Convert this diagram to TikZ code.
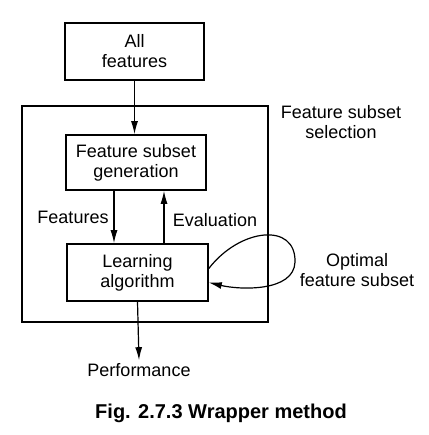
\documentclass[tikz,border=0pt]{standalone}
\usepackage{fontspec}
\setmainfont{Liberation Sans}
\usepackage{tikz}
\usetikzlibrary{arrows.meta}

\tikzset{
  blk/.style={draw,line width=1.6pt,align=center,inner sep=0pt},
  lbl/.style={align=center,inner sep=0pt},
  arr/.style={-{Latex[length=13pt,width=7pt]},line width=1.2pt},
}

\begin{document}
\begin{tikzpicture}[x=1pt,y=-1pt,font=\fontsize{18}{20}\selectfont]
        \useasboundingbox (0,0) rectangle (428,435);
        \node[blk,minimum width=139pt,minimum height=57pt] (allf) at (134.5,51.5) {All\\features};
        \draw[line width=1.6pt] (22,106) rectangle (268,322);
        \node[lbl] (sel) at (341,122) {Feature subset\\selection};
        \node[blk,minimum width=140pt,minimum height=55pt] (gen) at (136,162.5) {Feature subset\\generation};
        \node[blk,minimum width=141pt,minimum height=57pt] (learn) at (137.5,272.5) {Learning\\algorithm};
        \draw[arr] (allf.south) -- (allf.south |- gen.north);
        \draw[arr] ([xshift=-22pt]gen.south) -- ([xshift=-22pt]gen.south |- learn.north);
        \draw[arr] ([xshift=26.5pt]learn.north) -- ([xshift=26.5pt]learn.north |- gen.south);
        \node[lbl] (feat) at (73,217) {Features};
        \node[lbl] (eval) at (215,220) {Evaluation};
        % loop back into the learner
        \draw[arr] ([yshift=4pt]learn.east) ..controls (240,228) and (296,222) ..(295,262)
                  ..controls (294,292) and (240,290) ..([yshift=-10pt]learn.east);
        \node[lbl] (opt) at (357,270) {Optimal\\feature subset};
        \node[lbl] (perf) at (139,370) {Performance};
        \draw[arr] (learn.south) -- ([yshift=3pt]perf.north);
        \node[lbl,font=\fontsize{20}{22}\selectfont\bfseries] (cap) at (221,413) {Fig. 2.7.3 Wrapper method};
\end{tikzpicture}
\end{document}
